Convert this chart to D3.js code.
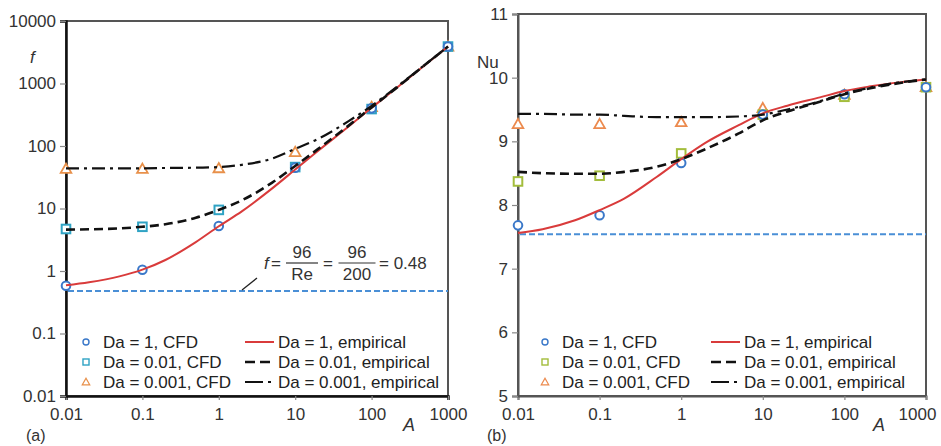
<!DOCTYPE html>
<html>
<head>
<meta charset="utf-8">
<script src="https://cdn.jsdelivr.net/npm/d3@7"></script>
<style>
  body { margin: 0; background: #fff; }
  svg { font-family: "Liberation Sans", Arial, sans-serif; }
  .tick text { font-size: 17px; fill: #333; }
</style>
</head>
<body>
<svg width="941" height="446"></svg>
<script>
'use strict'

// A values of the CFD points
var aCfd = [0.01, 0.1, 1, 10, 100, 1000];
// A values of the empirical curves
var aEmp = [0.01, 0.02, 0.05, 0.1, 0.2, 0.5, 1, 2, 5, 10, 20, 50, 100, 200, 500, 1000];

// panel (a) friction factor
var fCfd1 = [0.58, 1.05, 5.25, 45, 400, 3900];
var fCfd2 = [4.7, 5.1, 9.5, 46, 390, 3900];
var fCfd3 = [43, 43, 44, 80, 420, 3900];
var fEmp1 = [0.59, 0.66, 0.82, 1.05, 1.5, 2.9, 5.2, 9, 21, 42, 84, 205, 410, 800, 1980, 3900];
var fEmp2 = [4.6, 4.65, 4.8, 5.1, 5.6, 7.1, 9.5, 13.5, 26, 48, 90, 212, 415, 805, 1990, 3900];
var fEmp3 = [44, 44, 44, 44, 44.5, 45, 46, 50, 63, 90, 130, 250, 440, 830, 2000, 3900];
var fLaminar = 0.48;

// panel (b) Nusselt number
var nuCfd1 = [7.68, 7.84, 8.66, 9.42, 9.74, 9.85];
var nuCfd2 = [8.37, 8.46, 8.81, 9.42, 9.7, 9.85];
var nuCfd3 = [9.27, 9.27, 9.3, 9.52, 9.73, 9.85];
var nuEmp1 = [7.56, 7.62, 7.76, 7.92, 8.1, 8.44, 8.72, 8.98, 9.25, 9.44, 9.56, 9.69, 9.79, 9.86, 9.93, 9.97];
var nuEmp2 = [8.52, 8.5, 8.49, 8.49, 8.52, 8.6, 8.72, 8.88, 9.12, 9.33, 9.47, 9.62, 9.74, 9.83, 9.92, 9.97];
var nuEmp3 = [9.43, 9.43, 9.42, 9.42, 9.4, 9.38, 9.38, 9.38, 9.39, 9.42, 9.5, 9.63, 9.75, 9.84, 9.93, 9.97];
var nuLaminar = 7.54;

var aTicks = [0.01, 0.1, 1, 10, 100, 1000];
var fTicks = [0.01, 0.1, 1, 10, 100, 1000, 10000];
var nuTicks = [5, 6, 7, 8, 9, 10, 11];

var legendCfd = ["Da = 1, CFD", "Da = 0.01, CFD", "Da = 0.001, CFD"];
var legendEmp = ["Da = 1, empirical", "Da = 0.01, empirical", "Da = 0.001, empirical"];

var red = "#d93b3b",
  blueLine = "#4a8fd6";

var empStyles = [
  { stroke: red, width: 2, dash: null },
  { stroke: "#111", width: 2.6, dash: "9,5" },
  { stroke: "#111", width: 2.2, dash: "13,5,3,5" }
];

var svg = d3.select("svg");

var fmt = function(d) { return String(d); };

function marker(g, type, color, cx, cy, s) {
  s = s || 1;
  var r = 4.3 * s;
  if (type === "circle") {
    g.append("circle").attr("cx", cx).attr("cy", cy).attr("r", r)
      .attr("fill", "#fff").attr("stroke", color).attr("stroke-width", 2 * s);
  } else if (type === "square") {
    g.append("rect").attr("x", cx - r).attr("y", cy - r).attr("width", 2 * r).attr("height", 2 * r)
      .attr("fill", "#fff").attr("stroke", color).attr("stroke-width", 2 * s);
  } else {
    var t = 5.3 * s;
    g.append("path")
      .attr("d", "M" + cx + "," + (cy - t) + "L" + (cx + t) + "," + (cy + t * 0.75) + "L" + (cx - t) + "," + (cy + t * 0.75) + "Z")
      .attr("fill", "#fff").attr("stroke", color).attr("stroke-width", 1.8 * s);
  }
}

function panel(opt) {
  var x = opt.x, y = opt.y;
  var g = svg.append("g");
  var x0 = x.range()[0], x1 = x.range()[1], y0 = y.range()[0], y1 = y.range()[1];

  // frame
  g.append("rect").attr("x", x0).attr("y", y1).attr("width", x1 - x0).attr("height", y0 - y1)
    .attr("fill", "none").attr("stroke", "#555").attr("stroke-width", 2);

  var xAxis = g.append("g").attr("transform", "translate(0," + y0 + ")")
    .call(d3.axisBottom(x).tickValues(aTicks).tickFormat(fmt).tickSize(4).tickPadding(8));
  var yAxis = g.append("g").attr("transform", "translate(" + x0 + ",0)")
    .call(d3.axisLeft(y).tickValues(opt.yTicks).tickFormat(fmt).tickSize(6).tickPadding(4));
  [xAxis, yAxis].forEach(function(a) {
    a.select(".domain").attr("stroke", opt.axisColor).attr("stroke-width", opt.axisWidth);
    a.selectAll(".tick line").attr("stroke", "#888").attr("stroke-width", 1.2);
    a.selectAll(".tick text").attr("font-family", "Liberation Sans, Arial, sans-serif");
  });
  if (opt.lastXShift) {
    xAxis.selectAll(".tick text").filter(function(d) { return d === 1000; })
      .attr("dx", opt.lastXShift);
  }

  // laminar reference line
  g.append("line").attr("x1", x0 + 2).attr("x2", x1).attr("y1", y(opt.laminar)).attr("y2", y(opt.laminar))
    .attr("stroke", blueLine).attr("stroke-width", 2).attr("stroke-dasharray", "6,3");

  var types = ["circle", "square", "triangle"];
  // CFD points beneath the curves
  [2, 1, 0].forEach(function(k) {
    opt.cfd[k].forEach(function(v, i) {
      marker(g, types[k], opt.cfdColors[k], x(aCfd[i]), y(v));
    });
  });

  var line = d3.line().curve(d3.curveMonotoneX)
    .x(function(d, i) { return x(aEmp[i]); })
    .y(function(d) { return y(d); });

  opt.emp.forEach(function(s, k) {
    g.append("path").datum(s).attr("d", line).attr("fill", "none")
      .attr("stroke", empStyles[k].stroke).attr("stroke-width", empStyles[k].width)
      .attr("stroke-dasharray", empStyles[k].dash);
  });

  // legend
  var lg = g.append("g").attr("font-size", 17).attr("fill", "#222");
  legendCfd.forEach(function(t, k) {
    var ly = opt.legendY + k * 20;
    marker(lg, types[k], opt.cfdColors[k], opt.legendX, ly, 0.7);
    lg.append("text").attr("x", opt.legendX + 17).attr("y", ly + 6).text(t);
  });
  legendEmp.forEach(function(t, k) {
    var ly = opt.legendY + k * 20;
    lg.append("line").attr("x1", opt.legendX2).attr("x2", opt.legendX2 + 29)
      .attr("y1", ly).attr("y2", ly)
      .attr("stroke", empStyles[k].stroke).attr("stroke-width", empStyles[k].width)
      .attr("stroke-dasharray", k === 2 ? "18,5,3,5" : (k === 1 ? "10,5" : null));
    lg.append("text").attr("x", opt.legendX2 + 33).attr("y", ly + 6).text(t);
  });

  // axis titles
  g.append("text").attr("x", opt.aX).attr("y", 431).attr("font-size", 18)
    .attr("font-style", "italic").attr("fill", "#333").text("A");
  g.append("text").attr("x", opt.tagX).attr("y", 441).attr("font-size", 16)
    .attr("fill", "#333").text(opt.tag);
  g.append("text").attr("x", opt.yLabelX).attr("y", opt.yLabelY).attr("font-size", 17)
    .attr("font-style", opt.yItalic ? "italic" : "normal").attr("fill", "#333").text(opt.yLabel);
  return g;
}

var xa = d3.scaleLog().domain([0.01, 1000]).range([66, 448]);
var ya = d3.scaleLog().domain([0.01, 10000]).range([396, 21]);
var xb = d3.scaleLog().domain([0.01, 1000]).range([518, 926]);
var yb = d3.scaleLinear().domain([5, 11]).range([396, 14]);

var ga = panel({
  x: xa, y: ya, yTicks: fTicks, laminar: fLaminar,
  emp: [fEmp1, fEmp2, fEmp3], cfd: [fCfd1, fCfd2, fCfd3],
  cfdColors: ["#3a78c9", "#2fa3c4", "#e8904a"],
  axisColor: "#111", axisWidth: 2.5,
  legendX: 86, legendX2: 245, legendY: 342,
  aX: 403, tagX: 26, tag: "(a)", yLabelX: 30, yLabelY: 63, yLabel: "f", yItalic: true,
  lastXShift: 0
});

var gb = panel({
  x: xb, y: yb, yTicks: nuTicks, laminar: nuLaminar,
  emp: [nuEmp1, nuEmp2, nuEmp3], cfd: [nuCfd1, nuCfd2, nuCfd3],
  cfdColors: ["#3a78c9", "#a3bd3c", "#ec8a4e"],
  axisColor: "#555", axisWidth: 2,
  legendX: 545, legendX2: 711, legendY: 342,
  aX: 873, tagX: 487, tag: "(b)", yLabelX: 477, yLabelY: 68, yLabel: "Nu", yItalic: false,
  lastXShift: -9
});

// annotation of the laminar value in panel (a)
var ann = ga.append("g").attr("font-size", 17).attr("fill", "#333");
ann.append("line").attr("x1", 242).attr("y1", ya(fLaminar) - 1).attr("x2", 257).attr("y2", 278)
  .attr("stroke", "#222").attr("stroke-width", 1.3);
ann.append("text").attr("x", 264).attr("y", 269).attr("font-style", "italic").text("f");
ann.append("text").attr("x", 271).attr("y", 269).text(" =");
function frac(cx, top, bottom, w) {
  ann.append("text").attr("x", cx).attr("y", 258).attr("text-anchor", "middle").text(top);
  ann.append("line").attr("x1", cx - w / 2).attr("x2", cx + w / 2).attr("y1", 263).attr("y2", 263)
    .attr("stroke", "#333").attr("stroke-width", 1.2);
  ann.append("text").attr("x", cx).attr("y", 280).attr("text-anchor", "middle").text(bottom);
}
frac(302, "96", "Re", 32);
ann.append("text").attr("x", 323).attr("y", 269).text("=");
frac(357, "96", "200", 37);
ann.append("text").attr("x", 379).attr("y", 269).text("= 0.48");
</script>
</body>
</html>
